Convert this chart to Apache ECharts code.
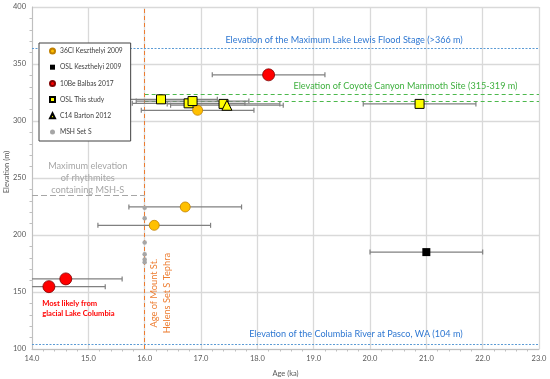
<!DOCTYPE html>
<html>
<head>
<meta charset="utf-8">
<script src="https://cdn.jsdelivr.net/npm/echarts@6/dist/echarts.min.js"></script>
<style>html,body{margin:0;padding:0;background:#fff}#c{width:550px;height:379px}</style>
</head>
<body>
<div id="c"></div>
<script>
// ---- Data ----
const xTicks = [14, 23, 1];         // min, max, interval (ka)
const yTicks = [100, 400, 50];      // min, max, interval (m)

const cl36Age  = [16.72, 16.17, 16.94];
const cl36Elev = [224.6, 208.5, 309.4];
const cl36Err  = [1.0, 1.0, 1.0];

const oslKAge  = [21.0];
const oslKElev = [185.0];
const oslKErr  = [1.0];

const be10Age  = [18.2, 14.6, 14.3];
const be10Elev = [340.5, 161.5, 154.7];
const be10Err  = [1.0, 1.0, 1.0];

const oslAge   = [16.29, 16.78, 16.85, 17.40, 20.88];
const oslElev  = [319.0, 315.5, 317.5, 315.0, 315.0];
const oslErr   = [1.0, 1.0, 1.0, 1.0, 1.0];

const c14Age   = [17.46];
const c14Elev  = [313.8];
const c14Err   = [1.0];

const mshAge   = [16.0, 16.0, 16.0, 16.0, 16.0, 16.0];
const mshElev  = [224.0, 214.6, 193.5, 183.2, 178.4, 176.2];

const lakeLewisElev = 364;
const columbiaElev  = 104;
const coyoteElev    = [317.5, 323.5];
const mshMaxElev    = 234.5;
const mshTephraAge  = 16.0;

const seriesNames = ['36Cl Keszthelyi 2009','OSL Keszthelyi 2009','10Be Balbas 2017','OSL This study','C14 Barton 2012','MSH Set S'];

// ---- Build ----
const FONT = 'Lato, "Open Sans", sans-serif';
const zip = (a,b,c) => a.map((v,i)=> c ? [v,b[i],c[i]] : [v,b[i]]);

function errRender(params, api) {
  const x = api.value(0), y = api.value(1), e = api.value(2);
  const p1 = api.coord([x - e, y]), p2 = api.coord([x + e, y]);
  const h = 2.5, st = {stroke:'#808080', lineWidth:1.2};
  return {type:'group', children:[
    {type:'line', shape:{x1:p1[0],y1:p1[1],x2:p2[0],y2:p2[1]}, style:st},
    {type:'line', shape:{x1:p1[0],y1:p1[1]-h,x2:p1[0],y2:p1[1]+h}, style:st},
    {type:'line', shape:{x1:p2[0],y1:p2[1]-h,x2:p2[0],y2:p2[1]+h}, style:st}
  ]};
}
function errSeries(a,b,c){
  return {type:'custom', renderItem: errRender, data: zip(a,b,c), clip:true, z:2, silent:true,
          encode:{x:0,y:1}};
}

const chart = echarts.init(document.getElementById('c'), null, {renderer:'canvas'});
const axisLabelStyle = {color:'#595959', fontSize:7.5, fontFamily:FONT};

const option = {
  animation:false,
  backgroundColor:'#fff',
  grid:{left:32, right:11, top:7, bottom:30, containLabel:false, outerBoundsMode:'none'},
  legend:{
    orient:'vertical', left:39, top:43, z:30,
    padding:[4,8,5,10], itemGap:8.2, itemWidth:5, itemHeight:5, itemTextGap:3,
    backgroundColor:'#fff', borderColor:'#404040', borderWidth:1,
    textStyle:{fontSize:6.7, color:'#404040', fontFamily:FONT, lineHeight:8},
    data:[
      {name:seriesNames[0], icon:'circle'},
      {name:seriesNames[1], icon:'rect', itemStyle:{borderWidth:0}},
      {name:seriesNames[2], icon:'circle'},
      {name:seriesNames[3], icon:'rect'},
      {name:seriesNames[4], icon:'triangle'},
      {name:seriesNames[5], icon:'circle'}
    ]
  },
  xAxis:{
    type:'value', min:xTicks[0], max:xTicks[1], interval:xTicks[2],
    name:'Age (ka)', nameLocation:'middle', nameGap:21,
    nameTextStyle:{color:'#595959', fontSize:7.5, fontFamily:FONT},
    axisLine:{show:true, lineStyle:{color:'#BFBFBF'}},
    axisTick:{show:false},
    minorTick:{show:true, splitNumber:5, length:2.5, lineStyle:{color:'#BFBFBF'}},
    axisLabel:Object.assign({formatter:v=>v.toFixed(1), margin:6}, axisLabelStyle),
    splitLine:{show:true, lineStyle:{color:'#D9D9D9', width:1.3}}
  },
  yAxis:{
    type:'value', min:yTicks[0], max:yTicks[1], interval:yTicks[2],
    name:'', 
    axisLine:{show:true, lineStyle:{color:'#BFBFBF'}},
    axisTick:{show:false},
    minorTick:{show:true, splitNumber:5, length:2.5, lineStyle:{color:'#BFBFBF'}},
    axisLabel:Object.assign({margin:6}, axisLabelStyle),
    splitLine:{show:true, lineStyle:{color:'#D9D9D9', width:1.3}}
  },
  series:[
    // reference lines
    {type:'line', data:[], silent:true, z:1,
     markLine:{silent:true, symbol:'none', label:{show:false}, animation:false, z:1, data:[
       [{coord:[xTicks[0],lakeLewisElev], lineStyle:{color:'#5B9BD5', type:[2,1.5], width:1}}, {coord:[xTicks[1],lakeLewisElev]}],
       [{coord:[xTicks[0],columbiaElev], lineStyle:{color:'#5B9BD5', type:[2,1.5], width:1}}, {coord:[xTicks[1],columbiaElev]}],
       [{coord:[mshTephraAge,coyoteElev[0]], lineStyle:{color:'#4CB84C', type:[4,3], width:1}}, {coord:[xTicks[1],coyoteElev[0]]}],
       [{coord:[mshTephraAge,coyoteElev[1]], lineStyle:{color:'#4CB84C', type:[4,3], width:1}}, {coord:[xTicks[1],coyoteElev[1]]}],
       [{coord:[xTicks[0],mshMaxElev], lineStyle:{color:'#A6A6A6', type:[6,3], width:1}}, {coord:[mshTephraAge,mshMaxElev]}],
       [{coord:[mshTephraAge,yTicks[0]], lineStyle:{color:'#ED7D31', type:[4,3], width:1}}, {coord:[mshTephraAge,yTicks[1]]}]
     ]}},
    errSeries(cl36Age, cl36Elev, cl36Err),
    errSeries(oslKAge, oslKElev, oslKErr),
    errSeries(be10Age, be10Elev, be10Err),
    errSeries(oslAge, oslElev, oslErr),
    errSeries(c14Age, c14Elev, c14Err),
    {name:seriesNames[5], type:'scatter', symbol:'circle', symbolSize:4.5, z:3,
     itemStyle:{color:'#A6A6A6', opacity:1}, data:zip(mshAge, mshElev)},
    {name:seriesNames[0], type:'scatter', symbol:'circle', symbolSize:10, z:4,
     itemStyle:{color:'#FFC000', borderColor:'#C08000', borderWidth:0.8, opacity:1}, data:zip(cl36Age, cl36Elev)},
    {name:seriesNames[1], type:'scatter', symbol:'rect', symbolSize:8, z:4,
     itemStyle:{color:'#000000', opacity:1}, data:zip(oslKAge, oslKElev)},
    {name:seriesNames[2], type:'scatter', symbol:'circle', symbolSize:12, z:4,
     itemStyle:{color:'#FF0000', borderColor:'#7F0000', borderWidth:0.8, opacity:1}, data:zip(be10Age, be10Elev)},
    {name:seriesNames[3], type:'scatter', symbol:'rect', symbolSize:9, z:5,
     itemStyle:{color:'#FFFF00', borderColor:'#000000', borderWidth:1, opacity:1}, data:zip(oslAge, oslElev)},
    {name:seriesNames[4], type:'scatter', symbol:'triangle', symbolSize:10, z:6,
     itemStyle:{color:'#FFFF00', borderColor:'#000000', borderWidth:1, opacity:1}, data:zip(c14Age, c14Elev)}
  ]
};
chart.setOption(option);

// annotations placed by data coordinates
const P = (x,y) => chart.convertToPixel({gridIndex:0},[x,y]);
const ann = [
  {at:[19.54, 371.0], text:'Elevation of the Maximum Lake Lewis Flood Stage (>366 m)', color:'#2F78D2', size:9.1, align:'center'},
  {at:[20.63, 330.7], text:'Elevation of Coyote Canyon Mammoth Site (315-319 m)', color:'#3FB03F', size:9.1, align:'center'},
  {at:[19.75, 113.0], text:'Elevation of the Columbia River at Pasco, WA (104 m)', color:'#2F78D2', size:9.1, align:'center'},
  {at:[14.99, 250.0], text:'Maximum elevation\nof rhythmites\ncontaining MSH-S', color:'#A6A6A6', size:9.2, align:'center', lh:12},
  {at:[14.18, 135.3], text:'Most likely from\nglacial Lake Columbia', color:'#FF0000', size:7.6, align:'left', lh:10, bold:true}
];
const graphics = ann.map(a => {
  const p = P(a.at[0], a.at[1]);
  return {type:'text', x:p[0], y:p[1], z:10, silent:true,
    style:{text:a.text, fill:a.color, fontSize:a.size, fontFamily:FONT, fontWeight:a.bold?'bold':'normal',
      align:a.align, verticalAlign:'middle', lineHeight:a.lh||a.size*1.2}};
});
const po = P(16.28, 149);
graphics.push({type:'text', x:po[0], y:po[1], rotation:Math.PI/2, z:10, silent:true,
  style:{text:'Age of Mount St.\nHelens Set S Tephra', fill:'#ED7D31', fontSize:9.2, fontFamily:FONT,
    align:'center', verticalAlign:'middle', lineHeight:13}});
// y-axis title, centred on the axis
const ym = P(xTicks[0], (yTicks[0] + yTicks[1]) / 2);
graphics.push({type:'text', x:7, y:ym[1] - 6, rotation:Math.PI/2, z:10, silent:true,
  style:{text:'Elevation (m)', fill:'#595959', fontSize:7.5, fontFamily:FONT, align:'center', verticalAlign:'middle'}});
chart.setOption({graphic:graphics});
</script>
</body>
</html>
